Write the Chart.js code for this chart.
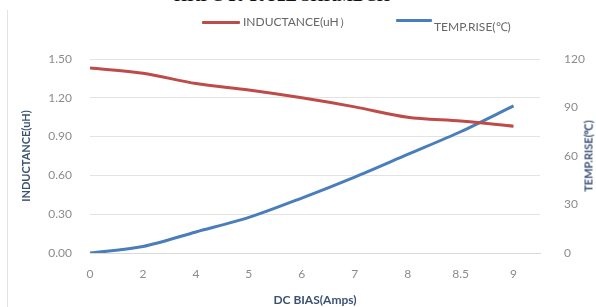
<!DOCTYPE html>
<html>
<head>
<meta charset="utf-8">
<script src="https://cdn.jsdelivr.net/npm/chart.js@4/dist/chart.umd.min.js"></script>
<style>
    html, body { margin: 0; padding: 0; background: #fff; }
    .wrap { position: relative; width: 596px; height: 307px; overflow: hidden; font-family: "Lato", "Open Sans", sans-serif; }
    .edge { position: absolute; left: 7px; top: 10px; bottom: 0; border-left: 1px solid #dfe3ea; }
    .cut-title {
        position: absolute; left: 168px; width: 228px; top: -14px; text-align: center; white-space: nowrap;
        font: bold 17px "Liberation Serif", "DejaVu Serif", serif; color: #111;
    }
    .key { position: absolute; height: 3px; border-radius: 1px; }
    .key-text { position: absolute; font-size: 12px; color: #666; white-space: nowrap; line-height: 14px; }
    .y2-title {
        position: absolute; left: 588px; top: 156px; transform: translate(-50%, -50%) rotate(-90deg);
        font-size: 11px; font-weight: bold; color: #3b5174; white-space: nowrap;
    }
    canvas { position: absolute; left: 0; top: 0; }
</style>
</head>
<body>
<div class="wrap">
    <div class="edge"></div>
    <div class="cut-title">HKPC 10 10T2E SHKMBCH</div>
    <canvas id="chart" width="596" height="307"></canvas>
    <div class="key" style="left:202px; top:21px; width:38px; background:#be4b48;"></div>
    <div class="key-text" style="left:243px; top:15px;">INDUCTANCE(uH）</div>
    <div class="key" style="left:396px; top:19px; width:36px; background:#4a7ebb;"></div>
    <div class="key-text" style="left:434px; top:20px;">TEMP.RISE(℃)</div>
    <div class="y2-title">TEMP.RISE(℃)</div>
</div>
<script>
    'use strict';

    // DC bias points (Amps), shown as evenly spaced categories
    var biasLabels = ['0', '2', '4', '5', '6', '7', '8', '8.5', '9'];
    var inductance = [1.43, 1.39, 1.31, 1.26, 1.20, 1.13, 1.05, 1.02, 0.98];
    var tempRise = [0, 4, 13, 22, 34, 47, 61, 75, 91];
    var leftTicks = [0, 0.3, 0.6, 0.9, 1.2, 1.5];
    var rightTicks = [0, 30, 60, 90, 120];

    var tickColor = '#8c8c8c',
        titleColor = '#3b5174',
        baseFont = '"Lato", "Open Sans", sans-serif',

        toPoints = function (values) {
            return values.map(function (v, i) { return { x: i, y: v }; });
        },

        fixedTicks = function (list) {
            return function (scale) {
                scale.ticks = list.map(function (v) { return { value: v }; });
            };
        };

    new Chart(document.getElementById('chart'), {
        type: 'line',
        data: {
            datasets: [{
                label: 'INDUCTANCE(uH）',
                data: toPoints(inductance),
                yAxisID: 'y',
                borderColor: '#be4b48',
                borderWidth: 3,
                pointRadius: 0,
                tension: 0.3
            }, {
                label: 'TEMP.RISE(℃)',
                data: toPoints(tempRise),
                yAxisID: 'y2',
                borderColor: '#4a7ebb',
                borderWidth: 3,
                pointRadius: 0,
                tension: 0.3
            }]
        },
        options: {
            responsive: false,
            animation: false,
            layout: { padding: { top: 59, left: 20, bottom: -4 } },
            plugins: {
                tooltip: { enabled: false },
                legend: { display: false }
            },
            scales: {
                x: {
                    type: 'linear',
                    min: 0,
                    max: biasLabels.length - 0.5,
                    afterBuildTicks: function (scale) {
                        scale.ticks = biasLabels.map(function (l, i) { return { value: i }; });
                    },
                    afterFit: function (scale) { scale.height = 58; },
                    grid: { display: false },
                    border: { color: '#d9d9d9' },
                    ticks: {
                        color: tickColor,
                        padding: 6,
                        font: { family: baseFont, size: 12 },
                        callback: function (v) { return biasLabels[v]; }
                    },
                    title: {
                        display: true,
                        text: 'DC BIAS(Amps)',
                        color: titleColor,
                        padding: { top: 10 },
                        font: { family: baseFont, size: 12, weight: 'bold' }
                    }
                },
                y: {
                    position: 'left',
                    min: 0,
                    max: 1.5,
                    afterBuildTicks: fixedTicks(leftTicks),
                    afterFit: function (scale) { scale.width = 70; },
                    grid: { color: '#e3e3e3', drawTicks: false },
                    border: { display: false },
                    ticks: {
                        color: tickColor,
                        padding: 18,
                        font: { family: baseFont, size: 12 },
                        callback: function (v) { return v.toFixed(2); }
                    },
                    title: {
                        display: true,
                        text: 'INDUCTANCE(uH)',
                        color: titleColor,
                        padding: 0,
                        font: { family: baseFont, size: 11, weight: 'bold' }
                    }
                },
                y2: {
                    position: 'right',
                    min: 0,
                    max: 120,
                    afterBuildTicks: fixedTicks(rightTicks),
                    afterFit: function (scale) { scale.width = 56; },
                    grid: { display: false },
                    border: { display: false },
                    ticks: {
                        color: tickColor,
                        padding: 16,
                        font: { family: baseFont, size: 12 }
                    }
                }
            }
        }
    });
</script>
</body>
</html>
